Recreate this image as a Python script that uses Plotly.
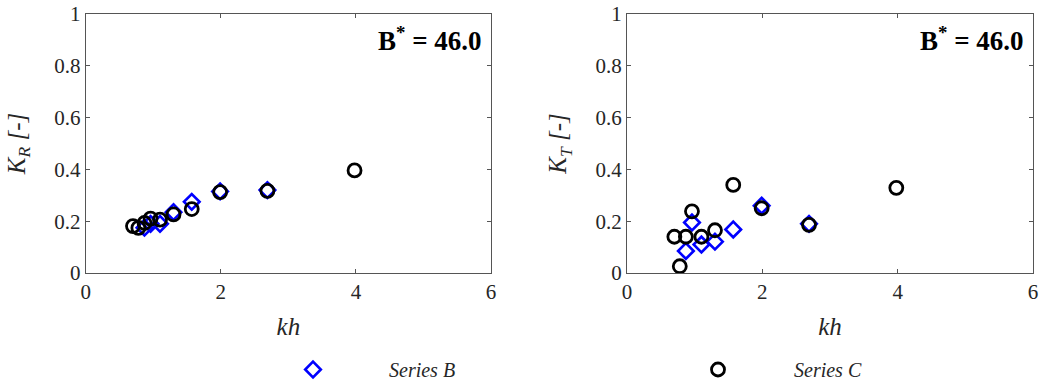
import plotly.graph_objects as go

# ---- data ----
kh_b = [0.87, 0.96, 1.10, 1.30, 1.57, 1.99, 2.69]
kr_b = [0.175, 0.19, 0.19, 0.235, 0.275, 0.315, 0.32]
kt_b = [0.085, 0.195, 0.11, 0.121, 0.168, 0.26, 0.19]

kh_c = [0.70, 0.78, 0.87, 0.96, 1.10, 1.30, 1.57, 1.99, 2.69, 3.98]
kr_c = [0.181, 0.174, 0.193, 0.21, 0.206, 0.226, 0.247, 0.312, 0.317, 0.396]
kt_c = [0.140, 0.026, 0.140, 0.238, 0.140, 0.165, 0.340, 0.250, 0.186, 0.329]

name_b = "Series B"
name_c = "Series C"
label_text = "<b>B<sup>*</sup> = 46.0</b>"
x_ticks = [0, 2, 4, 6]
y_ticks = [0, 0.2, 0.4, 0.6, 0.8, 1]

W, H = 1041, 389
FONT = "Liberation Serif, Times New Roman, serif"
AX = "#262626"

b_marker = dict(symbol="diamond-open", size=12, color="#0000FF", line=dict(width=2.6, color="#0000FF"))
c_marker = dict(symbol="circle-open", size=13, color="#000000", line=dict(width=2.8, color="#000000"))

fig = go.Figure()
fig.add_trace(go.Scatter(x=kh_b, y=kr_b, mode="markers", marker=b_marker, name="<i>" + name_b + "</i>",
                         xaxis="x", yaxis="y", legend="legend"))
fig.add_trace(go.Scatter(x=kh_c, y=kr_c, mode="markers", marker=c_marker, name="<i>" + name_c + "</i>",
                         xaxis="x", yaxis="y", legend="legend2"))
fig.add_trace(go.Scatter(x=kh_b, y=kt_b, mode="markers", marker=b_marker, name=name_b,
                         xaxis="x2", yaxis="y2", showlegend=False))
fig.add_trace(go.Scatter(x=kh_c, y=kt_c, mode="markers", marker=c_marker, name=name_c,
                         xaxis="x2", yaxis="y2", showlegend=False))

ydom = [(H - 273) / H, (H - 14) / H]


def xax():
    return dict(range=[0, 6], tickvals=x_ticks, ticks="inside", ticklen=4, tickcolor="#555",
                showline=True, linecolor="#555", linewidth=1, mirror="ticks", showgrid=False,
                zeroline=False, automargin=False, tickfont=dict(family=FONT, size=21, color=AX),
                title=dict(text="<i>kh</i>", font=dict(family=FONT, size=25, color=AX), standoff=14))


def yax(title):
    return dict(range=[0, 1], tickvals=y_ticks, ticks="inside", ticklen=4, tickcolor="#555",
                showline=True, linecolor="#555", linewidth=1, mirror="ticks", showgrid=False,
                zeroline=False, automargin=False, tickfont=dict(family=FONT, size=21, color=AX),
                domain=ydom, title=dict(text=title, font=dict(family=FONT, size=25, color=AX), standoff=21))


leg = dict(y=0, xanchor="left", yanchor="bottom", orientation="h", itemwidth=142,
           bgcolor="rgba(0,0,0,0)", font=dict(family=FONT, size=20, color=AX))

fig.update_layout(
    width=W, height=H,
    margin=dict(l=0, r=0, t=0, b=0),
    paper_bgcolor="white", plot_bgcolor="white",
    xaxis=dict(domain=[85.7 / W, 491 / W], anchor="y", **xax()),
    yaxis=dict(anchor="x", **yax("<i>K<sub>R</sub> [-]</i>")),
    xaxis2=dict(domain=[627 / W, 1033 / W], anchor="y2", **xax()),
    yaxis2=dict(anchor="x2", **yax("<i>K<sub>T</sub> [-]</i>")),
    legend=dict(x=237 / W, **leg),
    legend2=dict(x=642 / W, **leg),
)

for xr, yr in [("x domain", "y domain"), ("x2 domain", "y2 domain")]:
    fig.add_annotation(text=label_text, xref=xr, yref=yr, x=1, y=1, xanchor="right",
                       yanchor="top", xshift=-7, yshift=-6, showarrow=False,
                       font=dict(family=FONT, size=27, color="#000"))

fig.write_html("out.html", config={"displayModeBar": False},
               post_script="document.body.style.margin='0';")
